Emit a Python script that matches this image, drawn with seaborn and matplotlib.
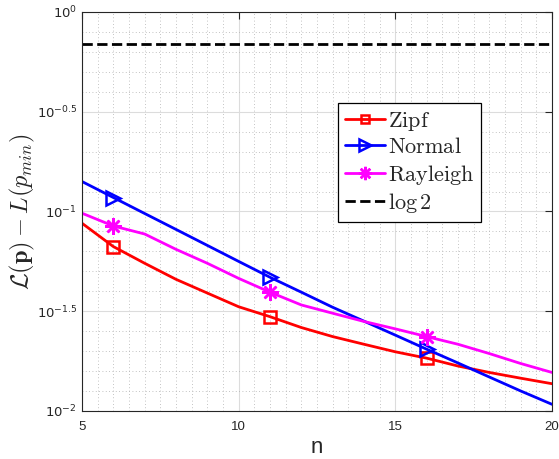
import numpy as np
import seaborn as sns
import matplotlib.pyplot as plt
from matplotlib.ticker import FixedLocator, NullFormatter

sns.set_style("white")
plt.rcParams['font.family'] = ['Liberation Sans', 'DejaVu Sans']
plt.rcParams['mathtext.fontset'] = 'cm'

# данные
n_vals = [5, 6, 7, 8, 9, 10, 11, 12, 13, 14, 15, 16, 17, 18, 19, 20]
zipf = [0.0873, 0.0667, 0.0550, 0.0457, 0.0390, 0.0333, 0.0297, 0.0262,
        0.0236, 0.0216, 0.0198, 0.0184, 0.0168, 0.0156, 0.0146, 0.0137]
normal = [0.1413, 0.1175, 0.0977, 0.0813, 0.0676, 0.0562, 0.0468, 0.0394,
          0.0331, 0.0282, 0.0240, 0.0204, 0.0174, 0.0148, 0.0126, 0.0108]
rayleigh = [0.0980, 0.0846, 0.0771, 0.0646, 0.0550, 0.0462, 0.0394, 0.0340,
            0.0309, 0.0281, 0.0258, 0.0236, 0.0216, 0.0194, 0.0173, 0.0156]
log2_x = [5, 20]
log2_y = [np.log(2), np.log(2)]
marker_idx = [1, 6, 11]

fig = plt.figure(figsize=(5.59, 4.59), dpi=100)
ax = fig.add_axes([0.1467, 0.1046, 0.8408, 0.8693])

series = [
    (zipf, 'red', 's', r'$\mathrm{Zipf}$', 8),
    (normal, 'blue', '>', r'$\mathrm{Normal}$', 10),
    (rayleigh, 'magenta', (8, 2, 0), r'$\mathrm{Rayleigh}$', 12),
]
for vals, color, mk, name, ms in series:
    sns.lineplot(x=n_vals, y=vals, ax=ax, color=color, lw=2, label=name,
                 marker=mk, markevery=marker_idx, markersize=ms,
                 markerfacecolor='none', markeredgecolor=color, markeredgewidth=1.8)
sns.lineplot(x=log2_x, y=log2_y, ax=ax, color='black', lw=2, ls='--',
             label=r'$\log 2$')

ax.set_yscale('log')
ax.set_xlim(5, 20)
ax.set_ylim(1e-2, 1)

# тики в стиле MATLAB
yt = [1e-2, 10 ** -1.5, 1e-1, 10 ** -0.5, 1]
ax.yaxis.set_major_locator(FixedLocator(yt))
ax.set_yticklabels([r'$10^{-2}$', r'$10^{-1.5}$', r'$10^{-1}$', r'$10^{-0.5}$', r'$10^{0}$'])
for t in ax.get_yticklabels():
    t.set_math_fontfamily('dejavusans')
ax.yaxis.set_minor_locator(FixedLocator([10 ** (-2 + 0.1 * k) for k in range(21)]))
ax.yaxis.set_minor_formatter(NullFormatter())
ax.set_xticks([5, 10, 15, 20])
ax.xaxis.set_minor_locator(FixedLocator(np.arange(5, 20.01, 0.5)))

ax.grid(which='major', color='#dcdcdc', lw=0.8, ls='-')
ax.grid(which='minor', color='#b0b0b0', lw=0.6, ls=(0, (1, 3)))
ax.tick_params(which='major', direction='in', length=5, top=True, right=True,
               labelsize=9.5, colors='#262626', width=0.8)
ax.tick_params(axis='x', pad=7)
ax.tick_params(which='minor', length=0)
for sp in ax.spines.values():
    sp.set_color('#262626')
    sp.set_linewidth(0.8)

ax.set_xlabel('n', fontsize=16, color='#262626', labelpad=3)
ax.set_ylabel(r'$\mathcal{L}(\mathbf{p}) - L(p_{min})$', fontsize=17.5, color='#262626',
              labelpad=0)

leg = ax.legend(loc='upper left', bbox_to_anchor=(0.545, 0.772), borderaxespad=0,
                fontsize=16, handlelength=1.8, handletextpad=0.15, labelspacing=0.2,
                fancybox=False, edgecolor='black', framealpha=1, borderpad=0.3,
                markerscale=0.8)
leg.get_frame().set_linewidth(0.9)

plt.savefig('out.png', dpi=100)
